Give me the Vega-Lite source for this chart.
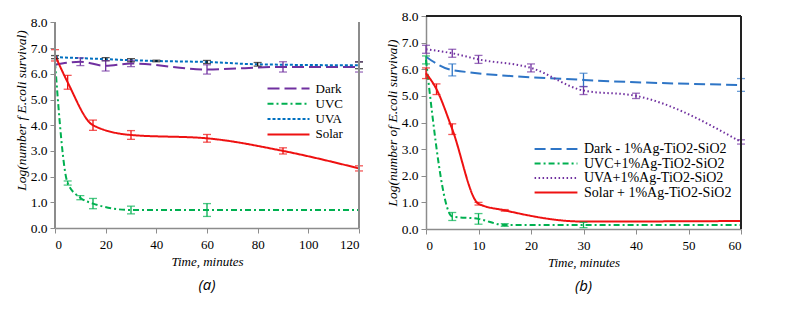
{
  "$schema": "https://vega.github.io/schema/vega-lite/v6.json",
  "background": "white",
  "padding": {"left": 14, "top": 9, "right": 0, "bottom": 0},
  "spacing": 67,
  "bounds": "flush",
  "config": {
    "view": {"stroke": null},
    "font": "'Liberation Serif', 'Times New Roman', 'DejaVu Serif', serif",
    "axis": {
      "labelFont": "'Liberation Serif', 'Times New Roman', 'DejaVu Serif', serif", "labelFontSize": 13, "labelColor": "#000",
      "domainColor": "#8c8c8c", "domainWidth": 1.5, "tickColor": "#8c8c8c", "tickSize": 5,
      "grid": false, "titleFont": "'Liberation Serif', 'Times New Roman', 'DejaVu Serif', serif", "titleFontStyle": "italic",
      "titleFontWeight": "normal", "titleFontSize": 13, "titleColor": "#000", "labelPadding": 3
    },
    "axisX": {"labelPadding": 5, "titlePadding": 4},
    "axisY": {"labelFontSize": 13.5, "titleFontSize": 13.5, "titlePadding": 2},
    "legend": {
      "labelFont": "'Liberation Serif', 'Times New Roman', 'DejaVu Serif', serif", "labelColor": "#000", "symbolType": "M-6,0H6",
      "symbolStrokeWidth": 2, "title": null, "padding": 0
    },
    "title": {"font": "'Open Sans', 'Liberation Sans', sans-serif", "fontStyle": "italic", "fontWeight": "normal", "fontSize": 15, "color": "#000", "orient": "bottom", "offset": 10}
  },
  "resolve": {"scale": {"x": "independent", "y": "independent", "color": "independent", "strokeDash": "independent"}},
  "hconcat": [
    {
      "width": 304,
      "height": 212,
      "title": {"text": "(a)"},
      "data": {"values": [
        {"series": "Dark", "t": 0, "v": 6.35},
        {"series": "Dark", "t": 10, "v": 6.47, "lo": 6.32, "hi": 6.62},
        {"series": "Dark", "t": 20, "v": 6.31, "lo": 6.11, "hi": 6.51},
        {"series": "Dark", "t": 30, "v": 6.4, "lo": 6.28, "hi": 6.52},
        {"series": "Dark", "t": 60, "v": 6.17, "lo": 5.99, "hi": 6.35},
        {"series": "Dark", "t": 90, "v": 6.27, "lo": 6.07, "hi": 6.47},
        {"series": "Dark", "t": 120, "v": 6.27, "lo": 6.07, "hi": 6.47},
        {"series": "UVC", "t": 0, "v": 6.45},
        {"series": "UVC", "t": 5, "v": 1.75, "lo": 1.67, "hi": 1.83},
        {"series": "UVC", "t": 10, "v": 1.18, "lo": 1.1, "hi": 1.26},
        {"series": "UVC", "t": 15, "v": 0.95, "lo": 0.75, "hi": 1.15},
        {"series": "UVC", "t": 30, "v": 0.7, "lo": 0.55, "hi": 0.85},
        {"series": "UVC", "t": 60, "v": 0.7, "lo": 0.45, "hi": 0.95},
        {"series": "UVC", "t": 120, "v": 0.7},
        {"series": "UVA", "t": 0, "v": 6.65, "lo": 6.59, "hi": 6.71},
        {"series": "UVA", "t": 20, "v": 6.57, "lo": 6.51, "hi": 6.63},
        {"series": "UVA", "t": 30, "v": 6.53, "lo": 6.47, "hi": 6.59},
        {"series": "UVA", "t": 40, "v": 6.5, "lo": 6.47, "hi": 6.53},
        {"series": "UVA", "t": 60, "v": 6.46, "lo": 6.4, "hi": 6.52},
        {"series": "UVA", "t": 80, "v": 6.37, "lo": 6.3, "hi": 6.44},
        {"series": "UVA", "t": 120, "v": 6.33, "lo": 6.2, "hi": 6.46},
        {"series": "Solar", "t": 0, "v": 6.72, "lo": 6.5, "hi": 6.94},
        {"series": "Solar", "t": 5, "v": 5.67, "lo": 5.4, "hi": 5.94},
        {"series": "Solar", "t": 15, "v": 4.0, "lo": 3.8, "hi": 4.2},
        {"series": "Solar", "t": 30, "v": 3.62, "lo": 3.45, "hi": 3.79},
        {"series": "Solar", "t": 60, "v": 3.49, "lo": 3.34, "hi": 3.64},
        {"series": "Solar", "t": 90, "v": 3.0, "lo": 2.88, "hi": 3.12},
        {"series": "Solar", "t": 120, "v": 2.32, "lo": 2.22, "hi": 2.42}
      ]},
      "encoding": {
        "x": {"field": "t", "type": "quantitative", "scale": {"domain": [0, 120], "nice": false},
              "axis": {"values": [0, 20, 40, 60, 80, 100, 120], "title": "Time, minutes"}},
        "y": {"field": "v", "type": "quantitative", "scale": {"domain": [0, 8.25], "nice": false},
              "axis": {"values": [0, 1, 2, 3, 4, 5, 6, 7, 8], "format": ".1f", "domain": false, "title": "Log(number f E.coli survival)", "titleY": 94}}
      },
      "layer": [
        {
          "mark": {"type": "line", "interpolate": "monotone", "strokeWidth": 2},
          "encoding": {
            "color": {"field": "series", "type": "nominal", "scale": {"domain": ["Dark", "UVC", "UVA", "Solar"], "range": ["#7030a0", "#00b050", "#0070c0", "#ee1111"]},
                      "legend": {"orient": "none", "legendX": 227, "legendY": 66, "labelFontSize": 13, "rowPadding": 1.3, "labelOffset": 20.5, "symbolSize": 49}},
            "strokeDash": {"field": "series", "type": "nominal", "scale": {"domain": ["Dark", "UVC", "UVA", "Solar"], "range": [[12, 5], [6, 3, 2, 3], [3, 2], [1, 0]]},
                      "legend": {"orient": "none", "legendX": 227, "legendY": 66, "labelFontSize": 13, "rowPadding": 1.3, "labelOffset": 20.5, "symbolSize": 49}}
          }
        },
        {
          "transform": [{"filter": "isValid(datum.lo)"}],
          "mark": {"type": "rule", "strokeWidth": 1.3},
          "encoding": {
            "y": {"field": "lo", "type": "quantitative"},
            "y2": {"field": "hi"},
            "color": {"condition": {"test": "datum.series === 'UVA'", "value": "#111"}, "field": "series", "type": "nominal", "legend": null}
          }
        },
        {
          "transform": [{"filter": "isValid(datum.lo)"}],
          "mark": {"type": "tick", "orient": "horizontal", "size": 8, "thickness": 1.3},
          "encoding": {
            "y": {"field": "lo", "type": "quantitative"},
            "color": {"condition": {"test": "datum.series === 'UVA'", "value": "#111"}, "field": "series", "type": "nominal", "legend": null}
          }
        },
        {
          "transform": [{"filter": "isValid(datum.hi)"}],
          "mark": {"type": "tick", "orient": "horizontal", "size": 8, "thickness": 1.3},
          "encoding": {
            "y": {"field": "hi", "type": "quantitative"},
            "color": {"condition": {"test": "datum.series === 'UVA'", "value": "#111"}, "field": "series", "type": "nominal", "legend": null}
          }
        },
        {
          "mark": {"type": "rule", "color": "#8c8c8c", "strokeWidth": 1.5},
          "encoding": {"x": {"datum": 0}, "y": {"datum": 0}, "y2": {"datum": 8}}
        },
        {
          "mark": {"type": "rule", "color": "#8c8c8c", "strokeWidth": 1.5},
          "encoding": {"x": {"datum": 120}, "y": {"datum": 0}, "y2": {"datum": 8}}
        }
      ]
    },
    {
      "width": 315,
      "height": 213,
      "title": {"text": "(b)"},
      "data": {"values": [
        {"series": "Dark - 1%Ag-TiO2-SiO2", "t": 0, "v": 6.47},
        {"series": "Dark - 1%Ag-TiO2-SiO2", "t": 5, "v": 5.97, "lo": 5.75, "hi": 6.2},
        {"series": "Dark - 1%Ag-TiO2-SiO2", "t": 30, "v": 5.6, "lo": 5.35, "hi": 5.85},
        {"series": "Dark - 1%Ag-TiO2-SiO2", "t": 60, "v": 5.41, "lo": 5.17, "hi": 5.65},
        {"series": "UVC+1%Ag-TiO2-SiO2", "t": 0, "v": 6.35, "lo": 6.2, "hi": 6.5},
        {"series": "UVC+1%Ag-TiO2-SiO2", "t": 5, "v": 0.47, "lo": 0.32, "hi": 0.62},
        {"series": "UVC+1%Ag-TiO2-SiO2", "t": 10, "v": 0.38, "lo": 0.18, "hi": 0.58},
        {"series": "UVC+1%Ag-TiO2-SiO2", "t": 15, "v": 0.15, "lo": 0.1, "hi": 0.2},
        {"series": "UVC+1%Ag-TiO2-SiO2", "t": 30, "v": 0.15, "lo": 0.05, "hi": 0.25},
        {"series": "UVC+1%Ag-TiO2-SiO2", "t": 60, "v": 0.15},
        {"series": "UVA+1%Ag-TiO2-SiO2", "t": 0, "v": 6.75, "lo": 6.6, "hi": 6.9},
        {"series": "UVA+1%Ag-TiO2-SiO2", "t": 5, "v": 6.6, "lo": 6.45, "hi": 6.75},
        {"series": "UVA+1%Ag-TiO2-SiO2", "t": 10, "v": 6.37, "lo": 6.22, "hi": 6.52},
        {"series": "UVA+1%Ag-TiO2-SiO2", "t": 20, "v": 6.05, "lo": 5.9, "hi": 6.2},
        {"series": "UVA+1%Ag-TiO2-SiO2", "t": 30, "v": 5.2, "lo": 5.05, "hi": 5.35},
        {"series": "UVA+1%Ag-TiO2-SiO2", "t": 40, "v": 5.0, "lo": 4.9, "hi": 5.1},
        {"series": "UVA+1%Ag-TiO2-SiO2", "t": 60, "v": 3.27, "lo": 3.19, "hi": 3.35},
        {"series": "Solar + 1%Ag-TiO2-SiO2", "t": 0, "v": 5.85, "lo": 5.65, "hi": 6.05},
        {"series": "Solar + 1%Ag-TiO2-SiO2", "t": 2, "v": 5.25, "lo": 5.05, "hi": 5.45},
        {"series": "Solar + 1%Ag-TiO2-SiO2", "t": 5, "v": 3.75, "lo": 3.55, "hi": 3.95},
        {"series": "Solar + 1%Ag-TiO2-SiO2", "t": 10, "v": 0.95, "lo": 0.9, "hi": 1.0},
        {"series": "Solar + 1%Ag-TiO2-SiO2", "t": 15, "v": 0.7, "lo": 0.67, "hi": 0.73},
        {"series": "Solar + 1%Ag-TiO2-SiO2", "t": 30, "v": 0.28},
        {"series": "Solar + 1%Ag-TiO2-SiO2", "t": 60, "v": 0.3}
      ]},
      "encoding": {
        "x": {"field": "t", "type": "quantitative", "scale": {"domain": [0, 60], "nice": false},
              "axis": {"values": [0, 10, 20, 30, 40, 50, 60], "title": "Time, minutes"}},
        "y": {"field": "v", "type": "quantitative", "scale": {"domain": [0, 8], "nice": false},
              "axis": {"values": [0, 1, 2, 3, 4, 5, 6, 7, 8], "format": ".1f", "title": "Log(number of E.coli survival)"}}
      },
      "layer": [
        {
          "mark": {"type": "line", "interpolate": "monotone", "strokeWidth": 2},
          "encoding": {
            "color": {"field": "series", "type": "nominal", "scale": {"domain": ["Dark - 1%Ag-TiO2-SiO2", "UVC+1%Ag-TiO2-SiO2", "UVA+1%Ag-TiO2-SiO2", "Solar + 1%Ag-TiO2-SiO2"], "range": ["#2e75c6", "#00b050", "#7030a0", "#ee1111"]},
                      "legend": {"orient": "none", "legendX": 123, "legendY": 126, "labelFontSize": 14, "rowPadding": 0.5, "labelOffset": 21, "symbolSize": 51}},
            "strokeDash": {"field": "series", "type": "nominal", "scale": {"domain": ["Dark - 1%Ag-TiO2-SiO2", "UVC+1%Ag-TiO2-SiO2", "UVA+1%Ag-TiO2-SiO2", "Solar + 1%Ag-TiO2-SiO2"], "range": [[11, 5], [6, 3, 2, 3], [1.5, 2.5], [1, 0]]},
                      "legend": {"orient": "none", "legendX": 123, "legendY": 126, "labelFontSize": 14, "rowPadding": 0.5, "labelOffset": 21, "symbolSize": 51}}
          }
        },
        {
          "transform": [{"filter": "isValid(datum.lo)"}],
          "mark": {"type": "rule", "strokeWidth": 1.3},
          "encoding": {
            "y": {"field": "lo", "type": "quantitative"},
            "y2": {"field": "hi"},
            "color": {"field": "series", "type": "nominal", "legend": null}
          }
        },
        {
          "transform": [{"filter": "isValid(datum.lo)"}],
          "mark": {"type": "tick", "orient": "horizontal", "size": 8, "thickness": 1.3},
          "encoding": {
            "y": {"field": "lo", "type": "quantitative"},
            "color": {"field": "series", "type": "nominal", "legend": null}
          }
        },
        {
          "transform": [{"filter": "isValid(datum.hi)"}],
          "mark": {"type": "tick", "orient": "horizontal", "size": 8, "thickness": 1.3},
          "encoding": {
            "y": {"field": "hi", "type": "quantitative"},
            "color": {"field": "series", "type": "nominal", "legend": null}
          }
        },
        {
          "mark": {"type": "rule", "color": "#222", "strokeWidth": 1},
          "encoding": {"x": {"datum": 60}, "y": {"datum": 0}, "y2": {"datum": 8}}
        },
        {
          "mark": {"type": "rule", "color": "#222", "strokeWidth": 1},
          "encoding": {"y": {"datum": 8}, "x": {"datum": 0}, "x2": {"datum": 60}}
        }
      ]
    }
  ]
}
